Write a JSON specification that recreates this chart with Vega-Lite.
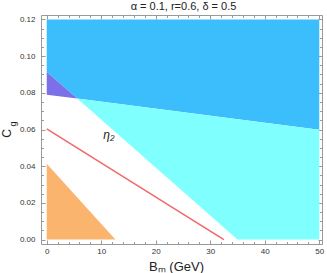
{
  "$schema": "https://vega.github.io/schema/vega-lite/v6.json",
  "width": 281,
  "height": 229,
  "autosize": {"type": "none"},
  "padding": {"left": 41, "top": 15, "right": 5, "bottom": 29},
  "background": "white",
  "config": {"view": {"stroke": "#999999", "strokeWidth": 1}, "font": "Liberation Sans"},
  "title": {"text": "α = 0.1,  r=0.6, δ = 0.5", "fontSize": 11, "fontWeight": "normal", "color": "#222222", "frame": "group", "anchor": "middle", "baseline": "bottom", "offset": -8, "dx": 2},
  "datasets": {
    "regions": [
      {"region": "blue", "x": 0, "y": 0.0913, "y2": 0.12},
      {"region": "blue", "x": 5.6, "y": 0.0769, "y2": 0.12},
      {"region": "blue", "x": 50, "y": 0.0598, "y2": 0.12},
      {"region": "purple", "x": 0, "y": 0.0789, "y2": 0.0913},
      {"region": "purple", "x": 5.6, "y": 0.0769, "y2": 0.0769},
      {"region": "cyan", "x": 5.6, "y": 0.0769, "y2": 0.0769},
      {"region": "cyan", "x": 35, "y": 0, "y2": 0.0656},
      {"region": "cyan", "x": 50, "y": 0, "y2": 0.0598},
      {"region": "orange", "x": 0, "y": 0, "y2": 0.0414},
      {"region": "orange", "x": 12.6, "y": 0, "y2": 0}
    ],
    "eta": [
      {"x": 0, "y": 0.0603},
      {"x": 32.5, "y": 0}
    ],
    "one": [{"k": 1}]
  },
  "layer": [
    {
      "data": {"name": "regions"},
      "mark": {"type": "area", "interpolate": "linear", "opacity": 1},
      "encoding": {
        "x": {"field": "x", "type": "quantitative", "scale": {"domain": [-1.05, 50.5], "nice": false, "zero": false},
          "axis": {"orient": "bottom", "values": [0,2,4,6,8,10,12,14,16,18,20,22,24,26,28,30,32,34,36,38,40,42,44,46,48,50],
            "labelExpr": "datum.value % 10 === 0 ? datum.label : ''", "domain": false, "grid": false,
            "tickSize": {"condition": {"test": "datum.value % 10 === 0", "value": -4}, "value": -2.5},
            "tickColor": "#999999", "labelFontSize": 8, "labelColor": "#333333", "labelPadding": 7, "labelFlush": false, "labelOverlap": false,
            "title": "Bₘ (GeV)", "titleFontSize": 13, "titleFontWeight": "normal", "titleColor": "#222222", "titleX": 135, "titleY": 22, "titleBaseline": "middle", "titleAlign": "center"}},
        "y": {"field": "y", "type": "quantitative", "stack": null, "scale": {"domain": [-0.0024, 0.1224], "nice": false, "zero": false},
          "axis": {"orient": "left", "values": [0,0.005,0.01,0.015,0.02,0.025,0.03,0.035,0.04,0.045,0.05,0.055,0.06,0.065,0.07,0.075,0.08,0.085,0.09,0.095,0.1,0.105,0.11,0.115,0.12],
            "labelExpr": "abs(datum.value*50 - round(datum.value*50)) < 0.001 ? format(datum.value, '.2f') : ''", "domain": false, "grid": false,
            "tickSize": {"condition": {"test": "abs(datum.value*50 - round(datum.value*50)) < 0.001", "value": -4}, "value": -2.5},
            "tickColor": "#999999", "labelFontSize": 8, "labelColor": "#333333", "labelPadding": 10, "labelFlush": false, "labelOverlap": false,
            "title": "C", "titleFontSize": 12, "titleFontWeight": "normal", "titleColor": "#222222", "titleX": -35, "titleY": 118, "titleBaseline": "middle", "titleAlign": "center", "titleAngle": 270}},
        "y2": {"field": "y2"},
        "color": {"field": "region", "type": "nominal", "legend": null,
          "scale": {"domain": ["blue", "cyan", "purple", "orange"], "range": ["#3CBEFC", "#80FFFF", "#7B70E8", "#FAB46E"]}}
      }
    },
    {
      "data": {"name": "eta"},
      "mark": {"type": "line", "color": "#F0666A", "strokeWidth": 1.5},
      "encoding": {
        "x": {"field": "x", "type": "quantitative",
          "axis": {"orient": "top", "values": [0,2,4,6,8,10,12,14,16,18,20,22,24,26,28,30,32,34,36,38,40,42,44,46,48,50],
            "labels": false, "domain": false, "grid": false, "title": null,
            "tickSize": {"condition": {"test": "datum.value % 10 === 0", "value": -4}, "value": -2.5}, "tickColor": "#999999"}},
        "y": {"field": "y", "type": "quantitative",
          "axis": {"orient": "right", "values": [0,0.005,0.01,0.015,0.02,0.025,0.03,0.035,0.04,0.045,0.05,0.055,0.06,0.065,0.07,0.075,0.08,0.085,0.09,0.095,0.1,0.105,0.11,0.115,0.12],
            "labels": false, "domain": false, "grid": false, "title": null,
            "tickSize": {"condition": {"test": "abs(datum.value*50 - round(datum.value*50)) < 0.001", "value": -4}, "value": -2.5}, "tickColor": "#999999"}}
      }
    },
    {
      "data": {"name": "one"},
      "mark": {"type": "text", "text": "η₂", "fontSize": 12, "fontStyle": "italic", "color": "#222222", "align": "center", "baseline": "middle"},
      "encoding": {
        "x": {"datum": 11.4, "type": "quantitative", "axis": null},
        "y": {"datum": 0.0572, "type": "quantitative", "axis": null}
      }
    },
    {
      "data": {"name": "one"},
      "mark": {"type": "text", "text": "g", "fontSize": 9, "color": "#222222", "align": "center", "baseline": "middle", "angle": 270},
      "encoding": {
        "x": {"datum": -6.27, "type": "quantitative", "axis": null},
        "y": {"datum": 0.063, "type": "quantitative", "axis": null}
      }
    }
  ],
  "resolve": {"axis": {"x": "independent", "y": "independent"}}
}
